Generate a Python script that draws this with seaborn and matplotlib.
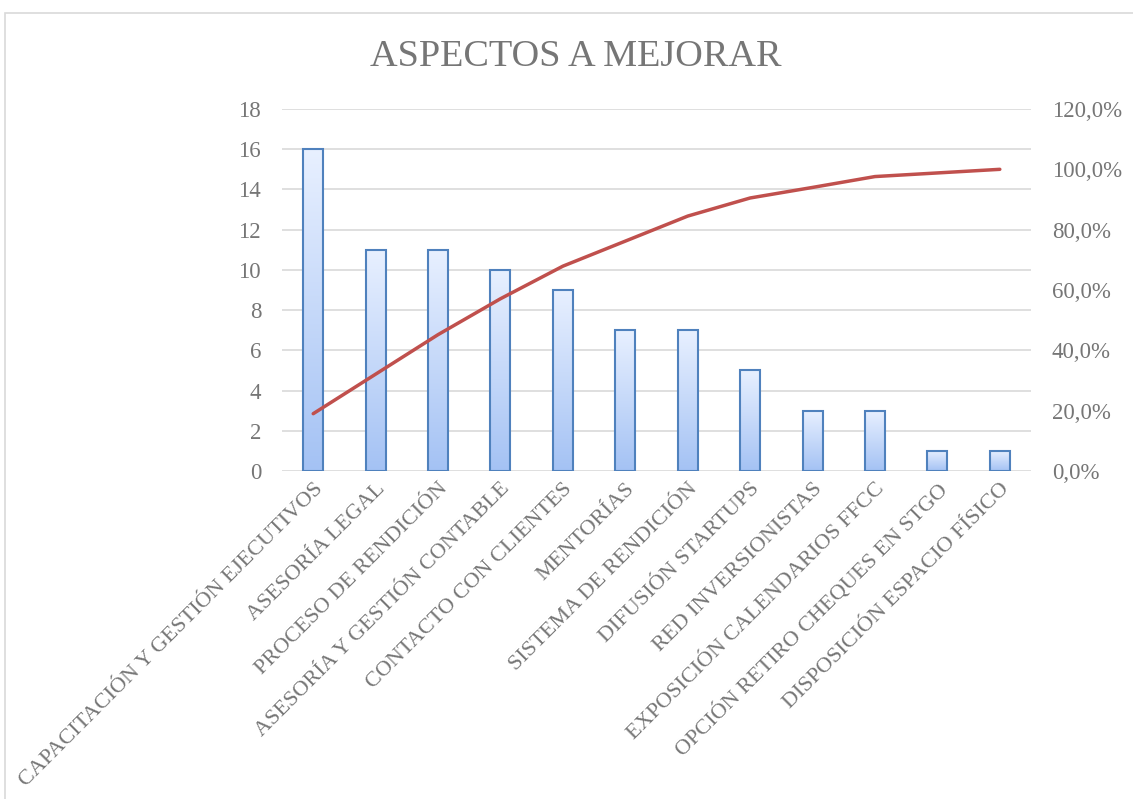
import numpy as np
import pandas as pd
import matplotlib
matplotlib.use("Agg")
import matplotlib.pyplot as plt
import seaborn as sns
from matplotlib.patches import Rectangle

# Daten
categorias = [
    "CAPACITACIÓN Y GESTIÓN EJECUTIVOS",
    "ASESORÍA LEGAL",
    "PROCESO DE RENDICIÓN",
    "ASESORÍA Y GESTIÓN CONTABLE",
    "CONTACTO CON CLIENTES",
    "MENTORÍAS",
    "SISTEMA DE RENDICIÓN",
    "DIFUSIÓN STARTUPS",
    "RED INVERSIONISTAS",
    "EXPOSICIÓN CALENDARIOS FFCC",
    "OPCIÓN RETIRO CHEQUES EN STGO",
    "DISPOSICIÓN ESPACIO FÍSICO",
]
frecuencia = [16, 11, 11, 10, 9, 7, 7, 5, 3, 3, 1, 1]
acumulado_pct = [19.0, 32.1, 45.2, 57.1, 67.9, 76.2, 84.5, 90.5, 94.0, 97.6, 98.8, 100.0]

df = pd.DataFrame({"categoria": categorias, "frecuencia": frecuencia,
                   "acumulado": acumulado_pct})

sns.set_style("white")
plt.rcParams["font.family"] = ["Liberation Serif", "DejaVu Serif"]
gris = "#767676"

fig = plt.figure(figsize=(11.33, 7.99), dpi=100)
ax = fig.add_axes([0.2489, 0.4105, 0.6611, 0.4531])

sns.barplot(data=df, x="categoria", y="frecuencia", ax=ax, width=0.32,
            color="#A9C4F5", edgecolor="#4F81BD", linewidth=1.5, zorder=3)

# Farbverlauf in den Balken
grad = np.linspace(0, 1, 256).reshape(-1, 1)
cmap = matplotlib.colors.LinearSegmentedColormap.from_list("g", ["#A4C2F4", "#E8F0FF"])
for p in ax.patches:
    x0, y0 = p.get_x(), p.get_y()
    w, h = p.get_width(), p.get_height()
    im = ax.imshow(grad, cmap=cmap, origin="lower", aspect="auto",
                   extent=[x0, x0 + w, y0, y0 + h], zorder=2.5)
    im.set_clip_path(p)
    p.set_facecolor("none")

ax.set_xlim(-0.5, len(categorias) - 0.5)
ax.set_ylim(0, 18)
ax.set_yticks(range(0, 19, 2))
ax.yaxis.grid(True, color="#D9D9D9", linewidth=1.2, zorder=0)
ax.set_axisbelow(True)
ax.set_xlabel("")
ax.set_ylabel("")
for s in ax.spines.values():
    s.set_visible(False)
ax.tick_params(axis="y", colors=gris, labelsize=16.5, length=0, pad=15)
ax.tick_params(axis="x", colors=gris, labelsize=16, length=0, pad=6)
plt.setp(ax.get_xticklabels(), rotation=45, ha="right", rotation_mode="anchor")

ax2 = ax.twinx()
sns.lineplot(x=np.arange(len(categorias)), y=df["acumulado"], ax=ax2,
             color="#C0504D", linewidth=2.5, zorder=5)
ax2.set_ylim(0, 120)
ax2.set_yticks(range(0, 121, 20))
ax2.set_yticklabels([f"{v},0%" for v in range(0, 121, 20)])
ax2.set_ylabel("")
for s in ax2.spines.values():
    s.set_visible(False)
ax2.tick_params(axis="y", colors=gris, labelsize=16.5, length=0, pad=15)

fig.text(0.508, 0.929, "ASPECTOS A MEJORAR", ha="center", va="center",
         fontsize=27.5, color=gris)

# Rahmen
fig.patches.append(Rectangle((5 / 1133, -0.01), 1.0, 1 - 13 / 799 + 0.01,
                             transform=fig.transFigure, fill=False,
                             edgecolor="#D9D9D9", linewidth=1.2))

fig.savefig("out.png", dpi=100)
